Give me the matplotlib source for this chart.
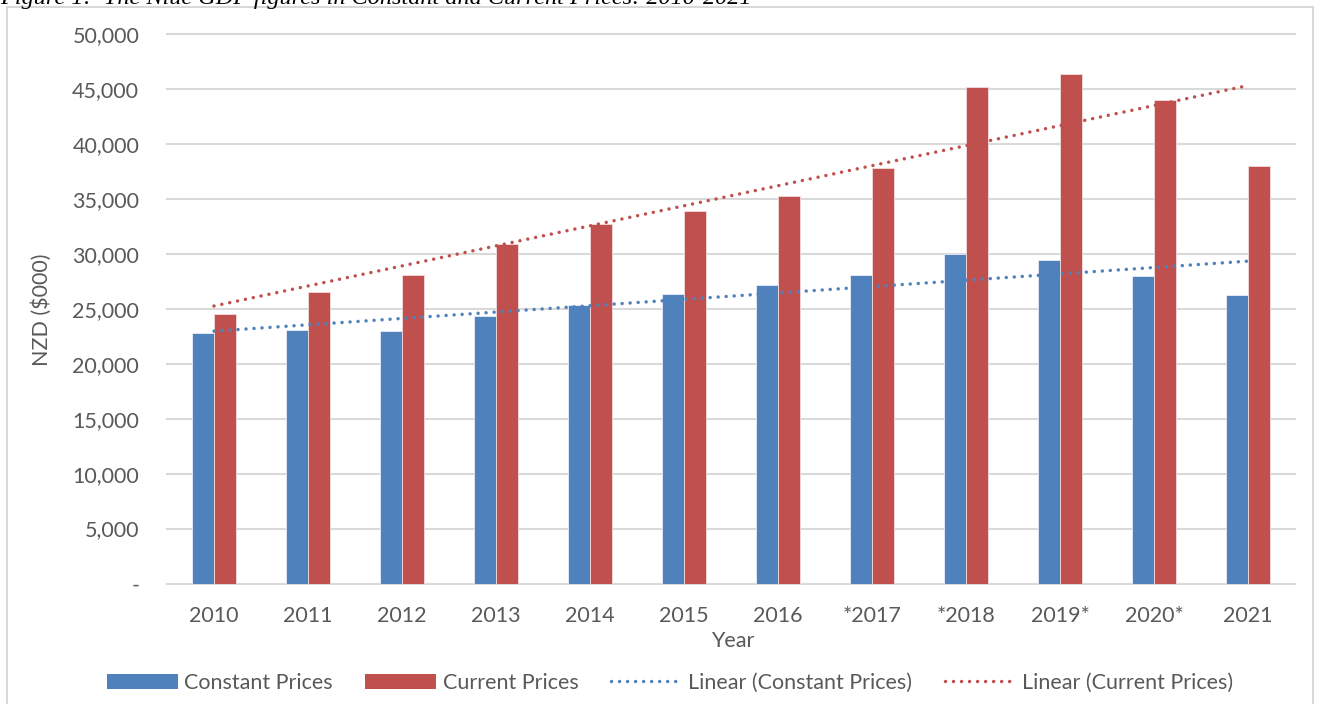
import matplotlib
matplotlib.use("Agg")
import matplotlib.pyplot as plt
import numpy as np
from matplotlib.patches import Patch, Rectangle
from matplotlib.lines import Line2D

years = ["2010", "2011", "2012", "2013", "2014", "2015", "2016", "*2017", "*2018", "2019*", "2020*", "2021"]
constant_prices = [22800, 23040, 22970, 24360, 25360, 26360, 27190, 28100, 29980, 29460, 28030, 26280]
current_prices = [24540, 26580, 28100, 30920, 32740, 33920, 35290, 37840, 45190, 46380, 44060, 38050]
yticks = [0, 5000, 10000, 15000, 20000, 25000, 30000, 35000, 40000, 45000, 50000]
ytick_labels = ["-", "5,000", "10,000", "15,000", "20,000", "25,000", "30,000", "35,000", "40,000", "45,000", "50,000"]

BLUE = "#4F81BD"
RED = "#C0504D"
TXT = "#595959"
GRID = "#D9D9D9"
FONT = "Lato"
FS = 15.5

W, H = 1317, 704
fig = plt.figure(figsize=(W / 100, H / 100), dpi=100)

# outer chart frame
fig.patches.append(Rectangle((7 / W, -0.02), (1313 - 7) / W, 1 - 7 / H + 0.02,
                             transform=fig.transFigure, fill=False,
                             edgecolor=GRID, linewidth=1.5))

# caption (cut off at top as in reference)
fig.text(0.0, 1 - 4 / H, "Figure 1:  The Niue GDP figures in Constant and Current Prices: 2010-2021",
         family="Liberation Serif", style="italic", fontsize=17.5, va="baseline", ha="left",
         color="black")

left, right = 167 / W, 1295 / W
bottom, top = 1 - 583.5 / H, 1 - 34.3 / H
ax = fig.add_axes([left, bottom, right - left, top - bottom])

x = np.arange(len(years))
bw = 0.238
ax.bar(x - bw / 2, constant_prices, bw, color=BLUE, edgecolor="#E8EEF7", linewidth=0.6, zorder=3)
ax.bar(x + bw / 2, current_prices, bw, color=RED, edgecolor="#F2DCDB", linewidth=0.6, zorder=3)

dot = (0, (0.01, 2.3))
for vals, col in ((constant_prices, BLUE), (current_prices, RED)):
    k, b = np.polyfit(x, vals, 1)
    ax.plot([x[0], x[-1]], [k * x[0] + b, k * x[-1] + b], color=col, lw=2.5,
            linestyle=dot, dash_capstyle="round", zorder=4)

ax.set_xlim(-0.5, len(years) - 0.5)
ax.set_ylim(0, 50000)
ax.set_yticks(yticks)
ax.set_yticklabels(ytick_labels)
ax.set_xticks(x)
ax.set_xticklabels(years)
for s in ax.spines.values():
    s.set_visible(False)
ax.yaxis.grid(True, color=GRID, linewidth=1.5, zorder=0)
ax.set_axisbelow(True)
for gl in ax.yaxis.get_gridlines():
    gl.set_clip_on(False)
ax.tick_params(axis="both", length=0, labelsize=FS, labelcolor=TXT)
ax.tick_params(axis="y", pad=20)
ax.tick_params(axis="x", pad=16)
for lab in ax.get_xticklabels() + ax.get_yticklabels():
    lab.set_family(FONT)

fig.text(42 / W, 1 - 310 / H, "NZD ($000)", rotation=90, ha="center", va="center",
         family=FONT, fontsize=FS, color=TXT)
fig.text(733 / W, 1 - 641 / H, "Year", ha="center", va="center",
         family=FONT, fontsize=FS, color=TXT)

handles = [Patch(facecolor=BLUE, edgecolor="none"),
           Patch(facecolor=RED, edgecolor="none"),
           Line2D([0], [0], color=BLUE, lw=2.5, linestyle=dot, dash_capstyle="round"),
           Line2D([0], [0], color=RED, lw=2.5, linestyle=dot, dash_capstyle="round")]
labels = ["Constant Prices", "Current Prices", "Linear (Constant Prices)", "Linear (Current Prices)"]
leg = fig.legend(handles, labels, loc="center", bbox_to_anchor=(670 / W, 1 - 683 / H), ncol=4,
                 frameon=False, handlelength=3.3, handletextpad=0.3, columnspacing=1.5,
                 prop={"family": FONT, "size": FS})
for t in leg.get_texts():
    t.set_color(TXT)

fig.savefig("out.png", dpi=100)
